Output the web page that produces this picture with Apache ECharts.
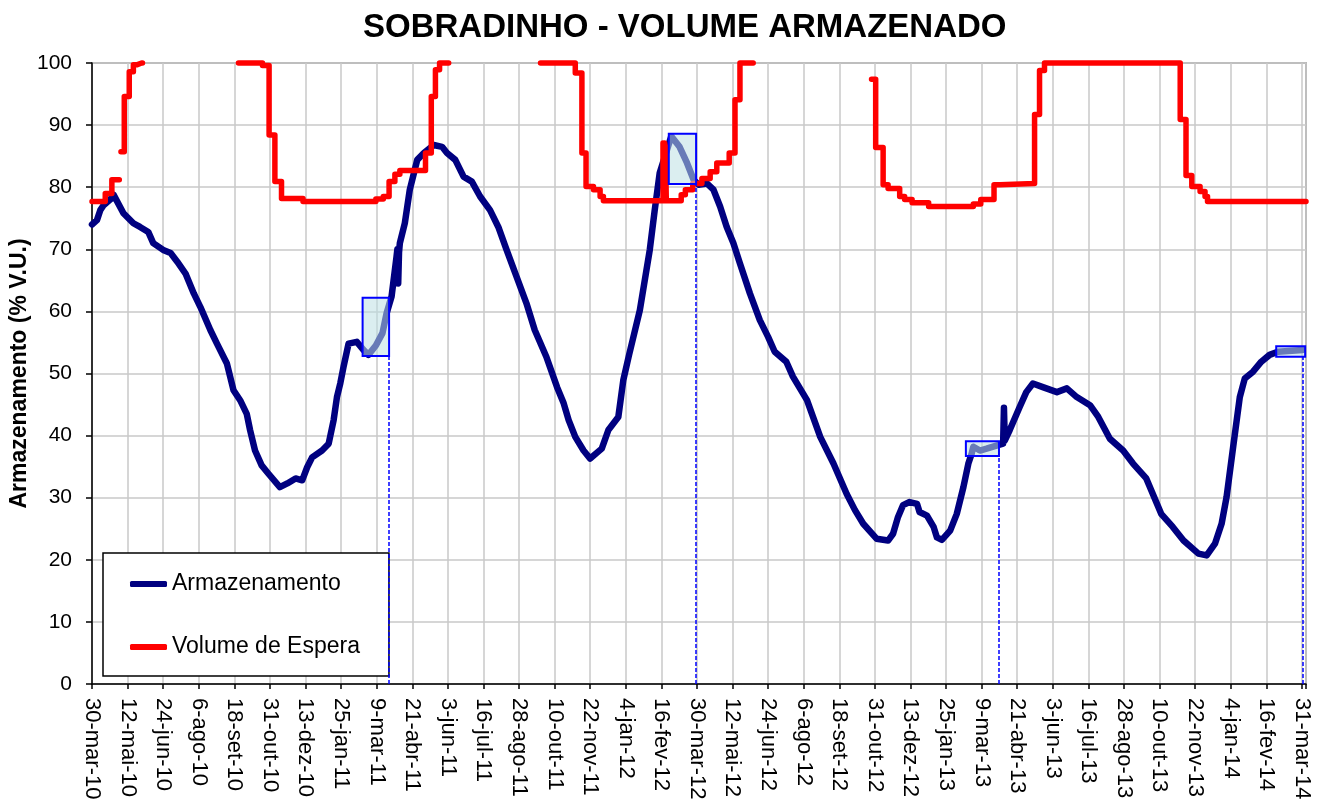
<!DOCTYPE html>
<html lang="pt">
<head>
    <meta charset="UTF-8">
    <title>Sobradinho - Volume Armazenado</title>
    <script src="https://cdn.jsdelivr.net/npm/echarts@6.0.0/dist/echarts.min.js"></script>
    <style type="text/css">
        body{
            margin: 0px;
            padding: 0px;
            background: #ffffff;
        }
        #chart{
            width: 1333px;
            height: 802px;
        }
    </style>
</head>
<body>
<div id="chart"></div>
<script type="text/javascript">
    // dias contados a partir de 30-mar-10
    var rotulosX = ['30-mar-10','12-mai-10','24-jun-10','6-ago-10','18-set-10','31-out-10','13-dez-10',
        '25-jan-11','9-mar-11','21-abr-11','3-jun-11','16-jul-11','28-ago-11','10-out-11','22-nov-11',
        '4-jan-12','16-fev-12','30-mar-12','12-mai-12','24-jun-12','6-ago-12','18-set-12','31-out-12',
        '13-dez-12','25-jan-13','9-mar-13','21-abr-13','3-jun-13','16-jul-13','28-ago-13','10-out-13',
        '22-nov-13','4-jan-14','16-fev-14','31-mar-14'];
    var passoDias = 43;
    var ultimoDia = 1467;

    //Armazenamento (% V.U.)
    var armDias = [0,6,10,14,22,26,38,50,58,68,74,86,95,103,113,123,131,143,151,163,171,179,187,191,197,205,213,227,
        236,246,254,260,266,278,286,292,296,300,304,310,320,328,334,343,351,356,362,368,369,370,371,372,378,384,
        393,401,413,423,429,439,449,459,469,481,491,501,513,525,535,549,562,570,576,584,594,602,616,624,636,642,
        649,662,674,680,686,700,710,719,727,733,743,751,759,767,775,783,795,807,817,825,839,847,864,880,896,912,
        922,932,948,962,968,974,980,988,997,1000,1009,1017,1021,1027,1037,1045,1053,1059,1063,1065,1073,1081,
        1093,1101,1102,1103,1109,1121,1129,1137,1149,1166,1178,1190,1206,1216,1230,1246,1258,1274,1292,1306,
        1319,1337,1347,1357,1365,1371,1379,1387,1393,1403,1413,1423,1433,1463];
    var armValores = [74.0,74.7,76.3,77.1,78.0,78.8,75.8,74.2,73.6,72.8,71.0,69.9,69.4,68.0,66.1,62.9,60.7,57.0,
        54.8,51.6,47.3,45.7,43.5,40.9,37.6,35.2,33.9,31.7,32.3,33.1,32.8,34.9,36.5,37.6,38.7,42.5,46.2,48.4,51.1,
        54.8,55.1,53.8,53.0,54.5,56.5,59.7,62.4,68.8,70.0,64.5,69.5,71.0,74.2,79.6,84.4,85.5,86.8,86.5,85.5,84.4,
        81.7,80.9,78.5,76.3,73.6,69.9,65.6,61.3,57.0,52.7,47.8,45.2,42.5,39.8,37.6,36.3,37.9,40.9,43.0,48.9,53.0,
        60.2,69.9,76.3,82.3,88.2,86.5,83.9,81.2,80.4,80.6,79.6,76.9,73.6,71.0,67.7,62.9,58.6,55.9,53.5,51.9,49.5,
        45.7,39.8,35.5,30.6,28.0,25.8,23.4,23.1,24.2,26.9,28.8,29.3,29.0,27.7,27.1,25.3,23.6,23.2,24.7,27.4,31.7,
        35.5,37.1,38.2,37.6,37.9,38.4,38.7,44.5,39.2,40.9,44.6,47.0,48.4,47.8,47.0,47.6,46.2,44.9,43.0,39.5,37.6,
        35.5,33.1,27.4,25.3,23.1,21.0,20.7,22.6,25.8,30.1,38.2,46.2,49.2,50.3,51.9,53.0,53.5,53.8];

    //Volume de Espera (degraus, null = sem valor)
    var espDias = [0,16,24,32,33, 35,39,45,50,54,60,61,
        177,206,214,221,229,255,343,352,359,366,372,403,410,415,420,430,431,
        542,584,592,597,606,614,618,690,691,692,693,694,712,717,726,737,747,755,770,777,783,798,799,
        942,947,956,962,976,982,991,1011,1065,1074,1090,1097,1139,1145,1151,1315,1322,1329,1339,1345,1348,1467];
    var espValores = [77.7,79.0,81.2,81.2,null, 85.7,94.6,98.6,99.7,100,100,null,
        100,99.6,88.4,80.9,78.2,77.7,78.1,78.5,80.9,82.1,82.7,85.5,94.6,98.9,100,100,null,
        100,98.4,85.5,80.1,79.6,78.5,77.8,87.1,77.8,87.1,86.5,77.8,78.8,79.6,80.6,81.4,82.5,83.9,85.5,94.1,100,100,null,
        97.4,86.4,80.4,79.8,78.5,78.0,77.5,76.9,77.3,78.0,80.4,80.6,91.7,98.8,100,90.9,81.9,80.1,79.3,78.5,77.7,77.7];

    // caixas destacadas: dia inicial, dia final, valor minimo, valor maximo
    var caixasIni = [327, 697, 1056, 1431];
    var caixasFim = [359, 730, 1096, 1466];
    var caixasMin = [52.8, 80.5, 36.7, 52.7];
    var caixasMax = [62.2, 88.6, 39.1, 54.4];
    // linhas tracejadas verticais
    var tracoDias = [359, 730, 1096, 1463];
    var tracoTopo = [52.8, 80.5, 36.7, 52.7];

    var fonte = '"Liberation Sans", Arial, sans-serif';

    function juntar(xs, ys) {
        var out = [];
        for (var i = 0; i < xs.length; i++) {
            out.push([xs[i], ys[i]]);
        }
        return out;
    }

    var areas = [];
    for (var i = 0; i < caixasIni.length; i++) {
        areas.push([{coord: [caixasIni[i], caixasMin[i]]}, {coord: [caixasFim[i], caixasMax[i]]}]);
    }
    var tracos = [];
    for (var j = 0; j < tracoDias.length; j++) {
        tracos.push([{coord: [tracoDias[j], 0]}, {coord: [tracoDias[j], tracoTopo[j]]}]);
    }

    var myChart = echarts.init(document.getElementById('chart'));
    myChart.setOption({
        animation: false,
        backgroundColor: '#ffffff',
        title: {
            text: 'SOBRADINHO - VOLUME ARMAZENADO',
            left: 363,
            top: 11,
            padding: 0,
            textStyle: {fontFamily: fonte, fontSize: 33, fontWeight: 'bold', color: '#000'}
        },
        grid: {
            left: 92, right: 27, top: 63, bottom: 118,
            outerBoundsMode: 'none',
            containLabel: false,
            show: true, borderColor: '#808080', borderWidth: 1.5, backgroundColor: 'transparent'
        },
        legend: {
            data: ['Armazenamento', 'Volume de Espera'],
            orient: 'vertical',
            left: 103,
            top: 553,
            padding: [19, 29, 17, 27],
            itemGap: 39,
            itemWidth: 37,
            itemHeight: 6,
            icon: 'roundRect',
            backgroundColor: '#ffffff',
            borderColor: '#000000',
            borderWidth: 1.5,
            textStyle: {fontFamily: fonte, fontSize: 23, lineHeight: 24, color: '#000'}
        },
        xAxis: {
            type: 'value',
            min: 0,
            max: ultimoDia,
            interval: passoDias,
            axisLine: {lineStyle: {color: '#000', width: 1.5}},
            axisTick: {show: true, length: 5, lineStyle: {color: '#000', width: 1.5}},
            splitLine: {show: true, lineStyle: {color: '#c8c8c8', width: 1.5}},
            axisLabel: {
                rotate: -90,
                margin: 14,
                fontFamily: fonte,
                fontSize: 22,
                color: '#000',
                formatter: function (v) {
                    if (v % passoDias !== 0) return '';
                    return rotulosX[v / passoDias] || '';
                }
            }
        },
        yAxis: {
            type: 'value',
            min: 0,
            max: 100,
            interval: 10,
            name: 'Armazenamento (% V.U.)',
            nameLocation: 'middle',
            nameGap: 61,
            nameMoveOverlap: false,
            nameTextStyle: {fontFamily: fonte, fontSize: 23, fontWeight: 'bold', color: '#000'},
            axisLine: {show: true, lineStyle: {color: '#000', width: 1.5}},
            axisTick: {show: true, length: 6, lineStyle: {color: '#000', width: 1.5}},
            splitLine: {show: true, lineStyle: {color: '#c8c8c8', width: 1.5}},
            axisLabel: {margin: 20, fontFamily: fonte, fontSize: 21, color: '#000'}
        },
        series: [
            {
                name: 'Armazenamento',
                type: 'line',
                data: juntar(armDias, armValores),
                symbol: 'none',
                clip: false,
                z: 2,
                itemStyle: {color: '#000080'},
                lineStyle: {color: '#000080', width: 6.5, cap: 'round', join: 'round'}
            },
            {
                name: 'Volume de Espera',
                type: 'line',
                step: 'end',
                data: juntar(espDias, espValores),
                symbol: 'none',
                connectNulls: false,
                clip: false,
                z: 3,
                itemStyle: {color: '#ff0000'},
                lineStyle: {color: '#ff0000', width: 5.5, cap: 'round', join: 'round'}
            },
            {
                name: 'marcas',
                type: 'line',
                data: [],
                z: 5,
                markArea: {
                    silent: true,
                    z: 10,
                    label: {show: false},
                    itemStyle: {color: 'rgba(190,224,228,0.55)', borderColor: '#0000ff', borderWidth: 2},
                    data: areas
                },
                markLine: {
                    silent: true,
                    z: 10,
                    symbol: 'none',
                    label: {show: false},
                    lineStyle: {color: '#0000ff', width: 1.5, type: [4, 2]},
                    data: tracos
                }
            }
        ]
    });
</script>
</body>
</html>
